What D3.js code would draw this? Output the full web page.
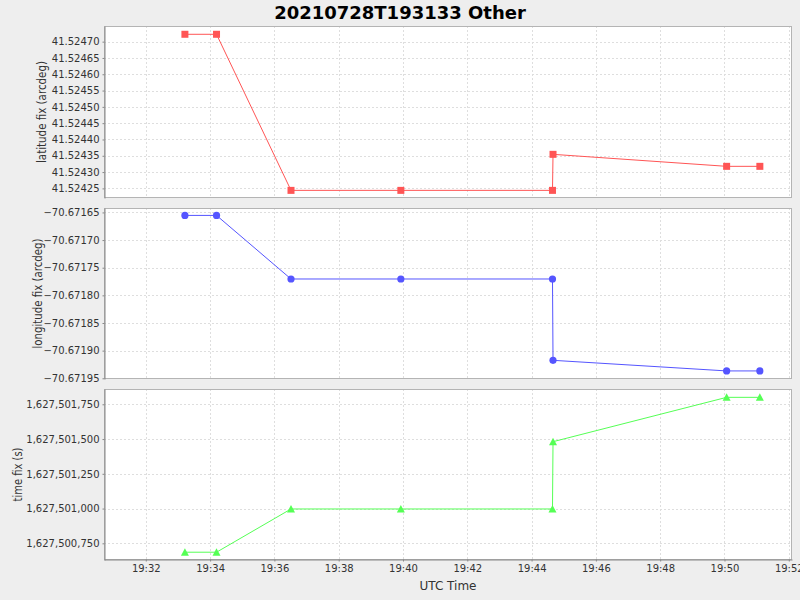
<!DOCTYPE html>
<html>
<head>
<meta charset="utf-8">
<script src="https://cdn.jsdelivr.net/npm/d3@7"></script>
<style>
html,body{margin:0;padding:0;background:#eeeeee;}
svg{display:block;font-family:"DejaVu Sans",sans-serif;}
</style>
</head>
<body>
<svg id="chart" width="800" height="600"></svg>
<script>
// ---- data ----
const chartTitle = "20210728T193133 Other";
const xLabel = "UTC Time";
const times = ["19:33:13","19:34:12","19:36:31","19:39:56","19:44:39","19:44:40","19:50:04","19:51:06"];
const latitude = [41.5247226,41.5247226,41.5242439,41.5242439,41.5242439,41.5243544,41.5243176,41.5243176];
const longitude = [-70.6716554,-70.6716554,-70.6717704,-70.6717704,-70.6717704,-70.6719175,-70.6719367,-70.6719367];
const timeFix = [1627500686,1627500686,1627500997,1627500997,1627500997,1627501481,1627501800,1627501800];
const xDomain = ["19:30:42","19:52:06"];
const xTicks = ["19:32","19:34","19:36","19:38","19:40","19:42","19:44","19:46","19:48","19:50","19:52"];
const latTicks = [41.52425,41.52430,41.52435,41.52440,41.52445,41.52450,41.52455,41.52460,41.52465,41.52470];
const lonTicks = [-70.67165,-70.67170,-70.67175,-70.67180,-70.67185,-70.67190,-70.67195];
const tfTicks = [1627500750,1627501000,1627501250,1627501500,1627501750];
const latDomain = [41.5242205,41.5247480];
const lonDomain = [-70.6719513,-70.6716420];
const tfDomain = [1627500630,1627501860];

// ---- layout ----
const svg = d3.select("#chart");
const L = 104, R = 792;
const parseT = d3.utcParse("%Y-%m-%dT%H:%M:%S");
const toDate = s => parseT("2021-07-28T" + (s.length === 5 ? s + ":00" : s));
const xs = d3.scaleUtc().domain(xDomain.map(toDate)).range([L, R]);
const xTickDates = xTicks.map(toDate);

const panels = [
  {top:26, bottom:198, values:latitude, ticks:latTicks, domain:latDomain, fmt:d3.format(".5f"),
   label:"latitude fix (arcdeg)", labelX:42, labelLen:102, color:"#ff5555", shape:"square"},
  {top:208, bottom:379, values:longitude, ticks:lonTicks, domain:lonDomain, fmt:d3.format(".5f"),
   label:"longitude fix (arcdeg)", labelX:38, labelLen:110, color:"#5555ff", shape:"circle"},
  {top:389, bottom:560, values:timeFix, ticks:tfTicks, domain:tfDomain, fmt:d3.format(",d"),
   label:"time fix (s)", labelX:18, labelLen:54, color:"#55ff55", shape:"triangle"}
];

// title
svg.append("text").attr("x", 400).attr("y", 18.5).attr("text-anchor","middle")
  .attr("font-size", 18).attr("font-weight","bold").attr("fill","#000").text(chartTitle);

const pts = times.map(toDate);

panels.forEach((p, i) => {
  const ys = d3.scaleLinear().domain(p.domain).range([p.bottom, p.top]);
  const g = svg.append("g");
  g.append("rect").attr("x", L).attr("y", p.top).attr("width", R - L).attr("height", p.bottom - p.top)
    .attr("fill", "#fff");
  // grid
  g.selectAll(".vg").data(xTickDates).join("line")
    .attr("x1", d => Math.round(xs(d)) + 0.5).attr("x2", d => Math.round(xs(d)) + 0.5)
    .attr("y1", p.top).attr("y2", p.bottom)
    .attr("stroke", "#dedede").attr("stroke-dasharray", "2,2").attr("stroke-width", 1);
  g.selectAll(".hg").data(p.ticks).join("line")
    .attr("x1", L).attr("x2", R)
    .attr("y1", d => Math.round(ys(d)) + 0.5).attr("y2", d => Math.round(ys(d)) + 0.5)
    .attr("stroke", "#dedede").attr("stroke-dasharray", "2,2").attr("stroke-width", 1);
  // outline
  g.append("rect").attr("x", L + 0.5).attr("y", p.top + 0.5).attr("width", R - L - 1).attr("height", p.bottom - p.top - 1)
    .attr("fill", "none").attr("stroke", "#b4b4b4");
  // y axis
  const ya = d3.axisLeft(ys).tickValues(p.ticks).tickFormat(p.fmt).tickSize(2).tickSizeOuter(0).tickPadding(3);
  const yg = svg.append("g").attr("transform", `translate(${L + 0.5},0)`).call(ya);
  yg.select(".domain").attr("stroke", "#888");
  yg.selectAll(".tick line").attr("stroke", "#888");
  yg.selectAll(".tick text").attr("font-size", 10).attr("fill", "#333")
    .attr("font-family", "'DejaVu Sans',sans-serif");
  // y label
  svg.append("text").attr("transform", `translate(${p.labelX},${(p.top + p.bottom) / 2}) rotate(-90)`)
    .attr("text-anchor", "middle").attr("dominant-baseline", "central")
    .attr("font-size", 12).attr("fill", "#333")
    .attr("textLength", p.labelLen).attr("lengthAdjust", "spacingAndGlyphs").text(p.label);
  // line
  const line = d3.line().x((d, k) => xs(pts[k])).y(d => ys(d));
  svg.append("path").datum(p.values).attr("d", line)
    .attr("fill", "none").attr("stroke", p.color).attr("stroke-width", 1);
  // markers
  const mg = svg.append("g").attr("fill", p.color);
  p.values.forEach((v, k) => {
    const cx = xs(pts[k]), cy = ys(v);
    if (p.shape === "square") {
      mg.append("rect").attr("x", cx - 3.5).attr("y", cy - 3.5).attr("width", 7).attr("height", 7);
    } else if (p.shape === "circle") {
      mg.append("circle").attr("cx", cx).attr("cy", cy).attr("r", 3.6);
    } else {
      mg.append("path").attr("d", `M${cx},${cy - 4}L${cx + 4},${cy + 3.5}L${cx - 4},${cy + 3.5}Z`);
    }
  });
  // x axis on last panel
  if (i === panels.length - 1) {
    const xa = d3.axisBottom(xs).tickValues(xTickDates).tickFormat(d3.utcFormat("%H:%M")).tickSize(2).tickSizeOuter(0).tickPadding(3);
    const xg = svg.append("g").attr("transform", `translate(0,${p.bottom - 0.5})`).call(xa);
    xg.select(".domain").attr("stroke", "#888");
    xg.selectAll(".tick line").attr("stroke", "#888");
    xg.selectAll(".tick text").attr("font-size", 10).attr("fill", "#333")
      .attr("font-family", "'DejaVu Sans',sans-serif");
  }
});

svg.append("text").attr("x", (L + R) / 2).attr("y", 590).attr("text-anchor", "middle")
  .attr("font-size", 12).attr("fill", "#333").text(xLabel);
</script>
</body>
</html>
